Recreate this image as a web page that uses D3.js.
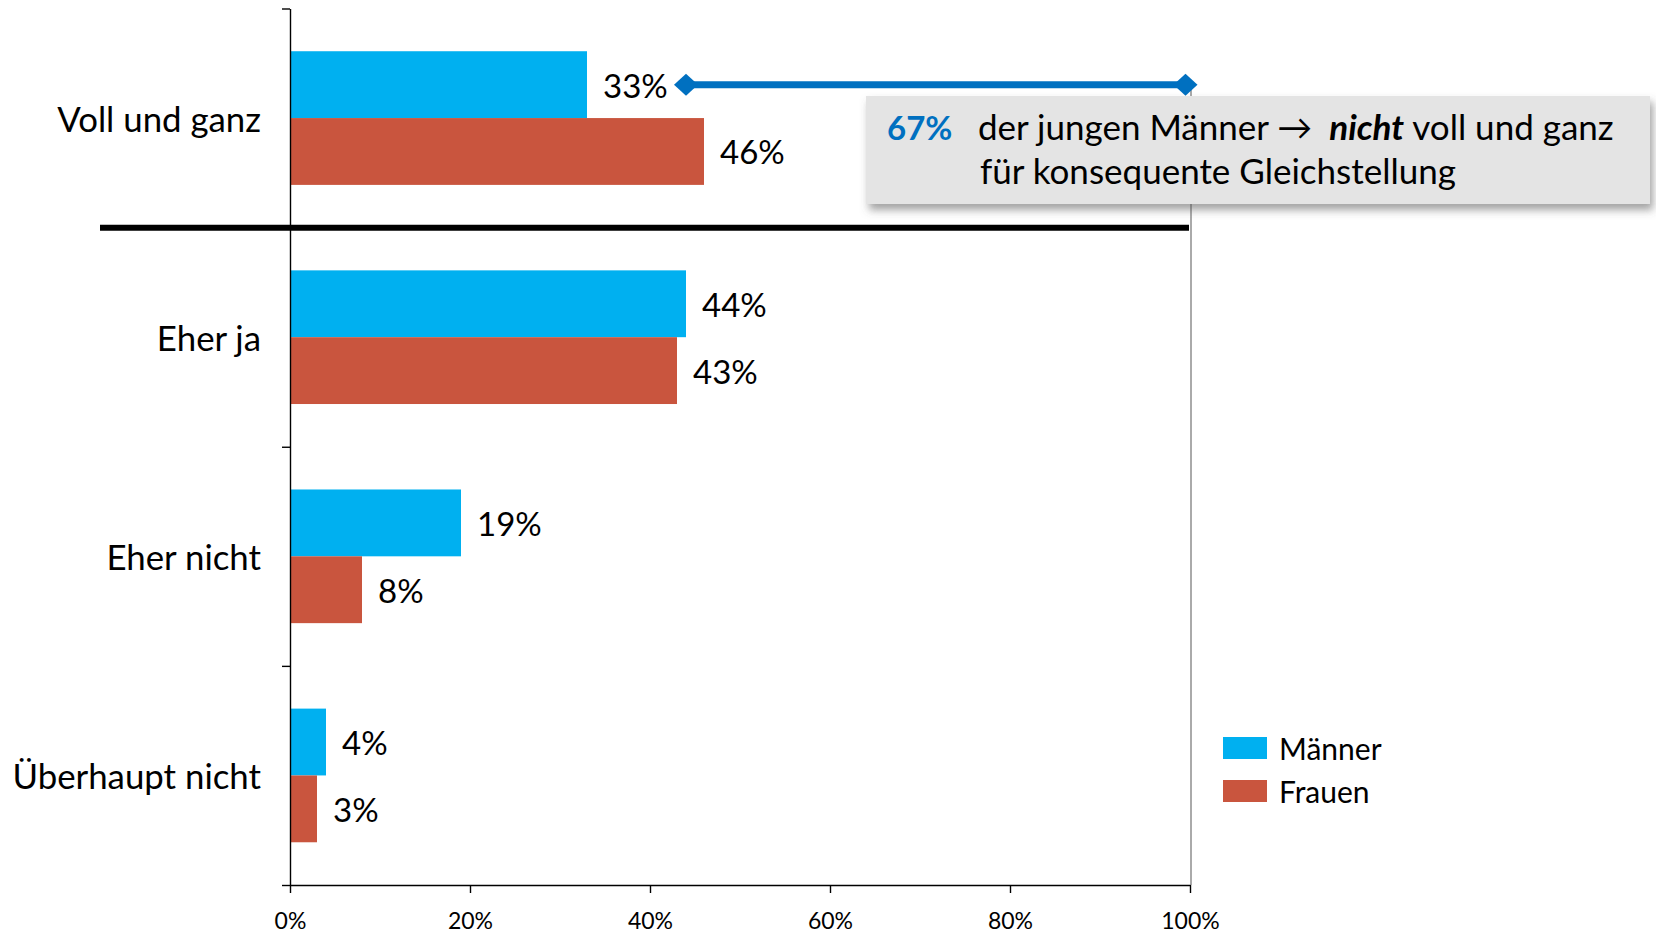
<!DOCTYPE html>
<html>
<head>
<meta charset="utf-8">
<script src="https://cdnjs.cloudflare.com/ajax/libs/d3/7.8.5/d3.min.js"></script>
<style>
  body { margin: 0; background: #fff; }
  svg text { font-family: 'Lato', 'Noto Sans', sans-serif; fill: #000; }
</style>
</head>
<body>
<svg class="genderChart" width="1656" height="934"></svg>
<script>
const categories = ['Voll und ganz', 'Eher ja', 'Eher nicht', 'Überhaupt nicht'];
const series = ['Männer', 'Frauen'];
const maenner = [33, 44, 19, 4];
const frauen = [46, 43, 8, 3];
const xTicks = [0, 20, 40, 60, 80, 100];
// bracket over the gap for men, and its label
const gapRange = [44, 99.5];
const gapValue = '67%';
const noteLine1 = ['der jungen Männer \u2192 ', 'nicht', ' voll und ganz'];
const noteLine2 = 'für konsequente Gleichstellung';

function drawChart(){
  const svg = d3.select('svg.genderChart');
  const colors = { 'Männer': '#00B0F0', 'Frauen': '#C9553E' };
  const noteBlue = '#0070C0';

  const x = d3.scaleLinear()
              .domain([0, 100])
              .range([290, 1190]);

  const y = d3.scaleBand()
              .domain(categories)
              .range([8.5, 885])
              .paddingInner(0.39)
              .paddingOuter(0.195);

  const ySub = d3.scaleBand()
              .domain(series)
              .range([0, y.bandwidth()]);

  const rows = categories.map((c, i) => ({
    cat: c,
    values: [
      { s: 'Männer', v: maenner[i] },
      { s: 'Frauen', v: frauen[i] }
    ]
  }));

  // right border of plot
  svg.append('line')
     .attr('x1', x(100) + 1).attr('x2', x(100) + 1)
     .attr('y1', 86).attr('y2', 885)
     .style('stroke', '#aaa')
     .style('stroke-width', 2);

  // bars
  const grp = svg.append('g').attr('class', 'bars')
     .selectAll('g.cat')
     .data(rows)
     .enter()
     .append('g')
     .attr('class', 'cat')
     .attr('transform', d => `translate(0, ${y(d.cat)})`);

  grp.selectAll('rect')
     .data(d => d.values)
     .enter()
     .append('rect')
     .attr('x', x(0))
     .attr('y', d => ySub(d.s))
     .attr('width', d => x(d.v) - x(0))
     .attr('height', ySub.bandwidth())
     .style('fill', d => colors[d.s]);

  grp.selectAll('text.val')
     .data(d => d.values)
     .enter()
     .append('text')
     .attr('class', 'val')
     .attr('x', d => x(d.v) + 16)
     .attr('y', d => ySub(d.s) + ySub.bandwidth() / 2)
     .attr('dominant-baseline', 'central')
     .style('font-size', '33px')
     .text(d => `${d.v}%`);

  // category labels
  svg.append('g')
     .selectAll('text')
     .data(categories)
     .enter()
     .append('text')
     .attr('x', 261)
     .attr('y', d => y(d) + y.bandwidth() / 2)
     .attr('text-anchor', 'end')
     .attr('dominant-baseline', 'central')
     .style('font-size', '34.8px')
     .text(d => d);

  // y axis with ticks at category boundaries
  const yEdge = d3.scaleLinear().domain([0, categories.length]).range(y.range());
  const yAxis = svg.append('g')
     .attr('transform', `translate(${x(0)}, 0)`)
     .call(d3.axisLeft(yEdge).ticks(categories.length).tickFormat('').tickSize(8).tickSizeOuter(0));

  // x axis
  const xAxis = svg.append('g')
     .attr('transform', `translate(0, ${y.range()[1]})`)
     .call(d3.axisBottom(x).tickValues(xTicks).tickFormat(d => `${d}%`).tickSize(8).tickSizeOuter(0).tickPadding(20));

  [yAxis, xAxis].forEach(a => {
    a.selectAll('path, line').style('stroke', '#000').style('stroke-width', 1.4);
  });
  xAxis.selectAll('text')
     .style('font-size', '23px')
     .style('font-family', "'Lato', sans-serif")
     .style('fill', '#000');

  // thick separator under first category
  svg.append('line')
     .attr('x1', 100).attr('x2', x(100) - 1)
     .attr('y1', yEdge(1)).attr('y2', yEdge(1))
     .style('stroke', '#000')
     .style('stroke-width', 6);

  // bracket line
  const yLine = y(categories[0]) + ySub('Männer') + ySub.bandwidth() / 2;
  svg.append('line')
     .attr('x1', x(gapRange[0])).attr('x2', x(gapRange[1]))
     .attr('y1', yLine).attr('y2', yLine)
     .style('stroke', noteBlue)
     .style('stroke-width', 7);

  svg.selectAll('path.diamond')
     .data(gapRange)
     .enter()
     .append('path')
     .attr('class', 'diamond')
     .attr('d', d => `M${x(d) - 12},${yLine} L${x(d)},${yLine - 11} L${x(d) + 12},${yLine} L${x(d)},${yLine + 11} Z`)
     .style('fill', noteBlue);

  // note box
  const defs = svg.append('defs');
  const f = defs.append('filter').attr('id', 'shadow')
     .attr('x', '-5%').attr('y', '-20%').attr('width', '115%').attr('height', '150%');
  f.append('feDropShadow')
     .attr('dx', 3).attr('dy', 6)
     .attr('stdDeviation', 4)
     .attr('flood-color', '#555')
     .attr('flood-opacity', 0.55);

  svg.append('rect')
     .attr('x', 866).attr('y', 96)
     .attr('width', 784).attr('height', 108)
     .style('fill', '#e4e4e4')
     .attr('filter', 'url(#shadow)');

  svg.append('text')
     .attr('x', 887).attr('y', 140)
     .style('font-size', '33px')
     .style('font-weight', 700)
     .style('fill', noteBlue)
     .text(gapValue);

  const t1 = svg.append('text')
     .attr('x', 978).attr('y', 140)
     .style('font-size', '35px');
  t1.append('tspan').text(noteLine1[0]);
  t1.append('tspan').attr('dx', 8).style('font-weight', 700).style('font-style', 'italic').text(noteLine1[1]);
  t1.append('tspan').text(noteLine1[2]);

  svg.append('text')
     .attr('x', 980).attr('y', 184)
     .style('font-size', '35px')
     .text(noteLine2);

  // legend
  const leg = svg.append('g')
     .attr('transform', 'translate(1223, 737)')
     .selectAll('g')
     .data(series)
     .enter()
     .append('g')
     .attr('transform', (d, i) => `translate(0, ${i * 43})`);

  leg.append('rect')
     .attr('width', 44).attr('height', 22)
     .style('fill', d => colors[d]);

  leg.append('text')
     .attr('x', 56).attr('y', 11)
     .attr('dominant-baseline', 'central')
     .style('font-size', '30px')
     .text(d => d);
}

drawChart();
</script>
</body>
</html>
